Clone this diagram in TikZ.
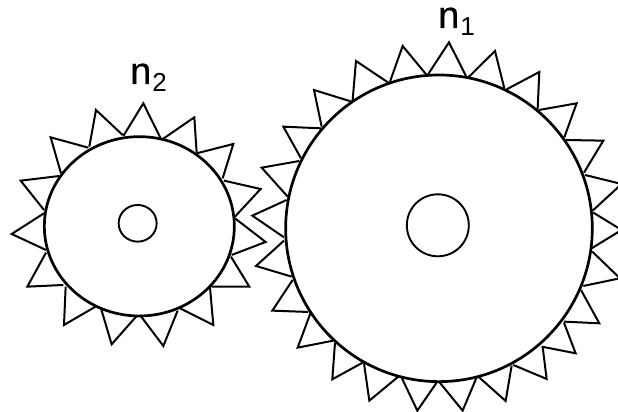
\documentclass[tikz,border=0pt]{standalone}
\usepackage{fontspec}
\setmainfont{Liberation Sans}
\newcommand{\gearlabel}[1]{\fontsize{38}{38}\selectfont {\addfontfeatures{FakeBold=0.6}n}\kern1pt\raisebox{-8pt}{\fontsize{26}{26}\selectfont #1}}

\begin{document}
\begin{tikzpicture}[
  x=1pt, y=-1pt,
  rim/.style={draw=black, line width=2.7pt},
  tooth/.style={draw=black, line width=2pt, miter limit=10},
  hub/.style={draw=black, line width=1.9pt},
  gearname/.style={inner sep=0pt, anchor=base west}
]
\fill[white] (0,0) rectangle (618,412);
\clip (0,0) rectangle (618,412);

% Small gear
\begin{scope}[shift={(0pt,-60pt)}, x=0.3333pt, y=-0.3333pt]
\draw[rim] (418,499) ellipse (285 and 269);
\draw[hub] (413,490) ellipse (57 and 55);
\foreach \ax/\ay/\tx/\ty/\bx/\by in {
  370/228/430/130/482/235, 490/236/583/172/590/278, 590/280/700/252/668/355,
  672/362/782/387/705/470, 705/475/797/546/695/585, 693/590/748/680/635/680,
  630/682/640/795/540/745, 533/752/490/858/420/765, 410/768/335/853/303/745,
  290/738/192/795/197/680, 190/675/82/680/138/578, 138/570/35/522/132/460,
  132/450/62/362/178/348, 183/340/152/232/265/263, 268/260/288/150/368/225}
  \draw[tooth] (\ax,\ay) -- (\tx,\ty) -- (\bx,\by);
\end{scope}

% Big gear
\begin{scope}[shift={(240pt,0pt)}, x=0.3333pt, y=-0.3333pt]
\draw[rim] (597,685) circle (460);
\draw[hub] (593.5,676) circle (93);
\foreach \ax/\ay/\tx/\ty/\bx/\by in {
  563/225/627/127/680/232, 685/232/765/153/793/265, 800/268/898/216/893/328,
  897/330/1010/310/973/412, 978/420/1090/422/1032/518, 1035/525/1145/552/1058/632,
  1060/638/1145/690/1055/745, 1057/755/1140/835/1030/858, 1023/870/1078/970/972/965,
  972/968/1007/1060/905/1040, 908/1040/920/1137/820/1095, 815/1097/797/1203/715/1130,
  710/1132/668/1232/597/1145, 592/1145/532/1232/485/1133, 475/1130/388/1202/372/1090,
  368/1088/277/1138/285/1028, 280/1022/173/1043/212/938, 205/936/97/932/158/840,
  155/830/48/798/132/722, 132/712/37/647/140/600, 143/590/65/503/178/483,
  183/475/130/380/243/385, 245/380/222/270/335/305, 338/300/348/183/445/248,
  450/245/488/138/560/225}
  \draw[tooth] (\ax,\ay) -- (\tx,\ty) -- (\bx,\by);
\end{scope}

% Labels
\node[gearname] (n2) at (130,84) {\gearlabel{2}};
\node[gearname] (n1) at (438,28) {\gearlabel{1}};

\end{tikzpicture}
\end{document}
